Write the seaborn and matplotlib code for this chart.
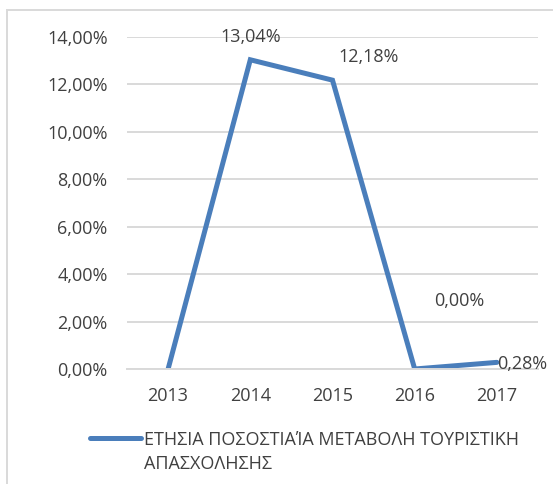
import matplotlib
matplotlib.use("Agg")
import matplotlib.pyplot as plt
import matplotlib.patches as mpatches
from matplotlib.lines import Line2D
import seaborn as sns
import pandas as pd

# Chart data
years = ["2013", "2014", "2015", "2016", "2017"]
values = [0.0, 0.1304, 0.1218, 0.0, 0.0028]
point_labels = [None, "13,04%", "12,18%", "0,00%", "0,28%"]
series_name = "ΕΤΗΣΙΑ ΠΟΣΟΣΤΙΑΊΑ ΜΕΤΑΒΟΛΗ ΤΟΥΡΙΣΤΙΚΗ\nΑΠΑΣΧΟΛΗΣΗΣ"
yticks = [0, 0.02, 0.04, 0.06, 0.08, 0.10, 0.12, 0.14]

df = pd.DataFrame({"year": years, "value": values})

sns.set_style("white")
plt.rcParams["font.family"] = ["Open Sans", "DejaVu Sans"]

line_color = "#4a7ebb"
text_color = "#404040"
fsize = 13

fig = plt.figure(figsize=(5.53, 4.84), dpi=100)
ax = fig.add_axes([127 / 553, 1 - 369 / 484, (538 - 127) / 553, (369 - 37) / 484])

sns.lineplot(data=df, x="year", y="value", ax=ax, color=line_color,
             linewidth=3.6, sort=False, legend=False)
ax.lines[0].set_solid_joinstyle("miter")
ax.lines[0].set_solid_capstyle("round")

ax.set_xlim(-0.5, len(years) - 0.5)
ax.set_ylim(0, 0.14)
ax.set_yticks(yticks)
ax.set_yticklabels([f"{t * 100:.2f}%".replace(".", ",") for t in yticks])
ax.yaxis.grid(True, color="#d9d9d9", linewidth=1.4)
ax.set_axisbelow(True)
for s in ax.spines.values():
    s.set_visible(False)
ax.spines["bottom"].set_visible(True)
ax.spines["bottom"].set_color("#d9d9d9")
ax.spines["bottom"].set_linewidth(1.4)
ax.tick_params(axis="both", length=0, labelsize=fsize, labelcolor=text_color)
ax.tick_params(axis="y", pad=14)
ax.tick_params(axis="x", pad=13)
ax.set_xlabel("")
ax.set_ylabel("")

# data labels (offsets in points, Excel-like placement)
offsets = [None, (0, 16.5), (26, 16.5), (32, 49), (18, -1)]
for i, lab in enumerate(point_labels):
    if lab is None:
        continue
    ax.annotate(lab, (i, values[i]), textcoords="offset points", xytext=offsets[i],
                ha="center", va="center", fontsize=fsize, color=text_color)

# legend: line sample aligned with the first line of the label
fig.add_artist(Line2D([90 / 553, 141 / 553], [1 - 438 / 484] * 2, transform=fig.transFigure,
                      color=line_color, linewidth=3.6, solid_capstyle="round"))
for k, part in enumerate(series_name.split("\n")):
    fig.text(144 / 553, 1 - (445 + 24 * k) / 484, part, ha="left", va="baseline",
             fontsize=fsize, color=text_color)

# chart border (right/bottom edges are cropped)
fig.patches.append(mpatches.Rectangle((7 / 553, -0.1), 1.1, 1 - 10 / 484 + 0.1,
                                      transform=fig.transFigure, fill=False,
                                      edgecolor="#d9d9d9", linewidth=1.4))

fig.savefig("out.png", dpi=100)
